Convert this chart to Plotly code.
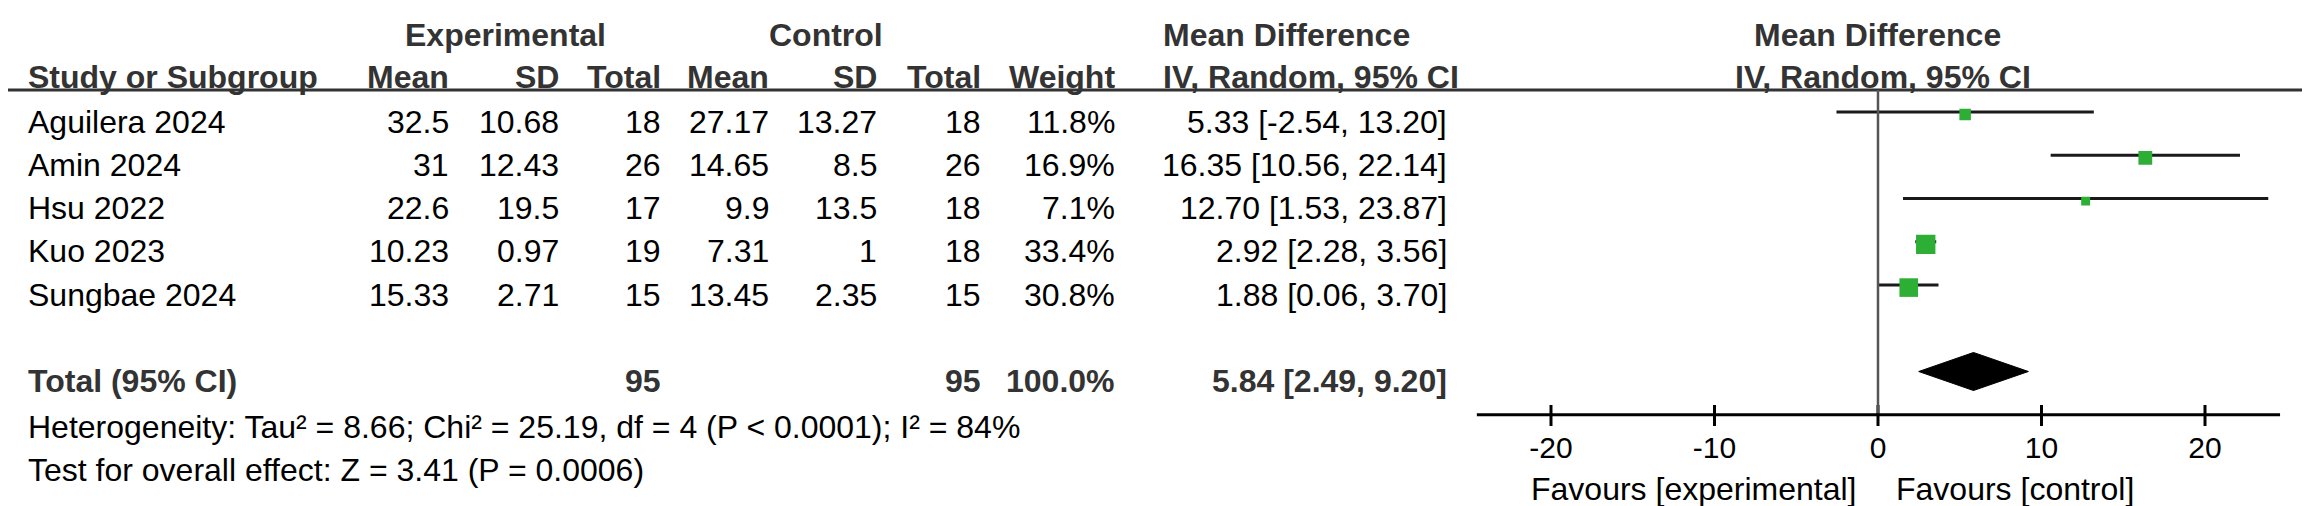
import plotly.graph_objects as go

# study level data
studies = ["Aguilera 2024", "Amin 2024", "Hsu 2022", "Kuo 2023", "Sungbae 2024"]
exp_mean = [32.5, 31, 22.6, 10.23, 15.33]
exp_sd = [10.68, 12.43, 19.5, 0.97, 2.71]
exp_n = [18, 26, 17, 19, 15]
ctrl_mean = [27.17, 14.65, 9.9, 7.31, 13.45]
ctrl_sd = [13.27, 8.5, 13.5, 1, 2.35]
ctrl_n = [18, 26, 18, 18, 15]
weight = [11.8, 16.9, 7.1, 33.4, 30.8]
md = [5.33, 16.35, 12.70, 2.92, 1.88]
ci_low = [-2.54, 10.56, 1.53, 2.28, 0.06]
ci_high = [13.20, 22.14, 23.87, 3.56, 3.70]

# pooled result
total_exp_n = 95
total_ctrl_n = 95
total_weight = 100.0
total_md = 5.84
total_low = 2.49
total_high = 9.20

heterogeneity = "Heterogeneity: Tau² = 8.66; Chi² = 25.19, df = 4 (P < 0.0001); I² = 84%"
overall_test = "Test for overall effect: Z = 3.41 (P = 0.0006)"

tick_vals = [-20, -10, 0, 10, 20]
favours_left = "Favours [experimental]"
favours_right = "Favours [control]"

# ---- layout constants (pixels / rows) ----
W, H = 2310, 506
ROW0_PX = 104.0      # pixel y of first study row
ROW_PX = 43.25       # pixel height of one row
TOTAL_ROW = 6
AXIS_ROW = 7.0
TXT = 0.22           # text sits a little below the CI line
FONT = "Liberation Sans, Arial, sans-serif"
HEAD_COL = "#333333"
GREEN = "#2DAF35"

rows = list(range(len(studies)))


def row_of(px):
    return (px - ROW0_PX) / ROW_PX


fig = go.Figure()

# confidence interval lines
ci_x, ci_y = [], []
for r, lo, hi in zip(rows, ci_low, ci_high):
    ci_x += [lo, hi, None]
    ci_y += [r, r, None]
fig.add_trace(go.Scatter(x=ci_x, y=ci_y, mode="lines",
                         line=dict(color="#1a1a1a", width=3),
                         hoverinfo="skip", showlegend=False))

# weight squares (area ~ weight)
fig.add_trace(go.Scatter(x=md, y=[r + 0.06 for r in rows], mode="markers",
                         marker=dict(symbol="square", color=GREEN, opacity=1,
                                     size=[3.35 * w ** 0.5 for w in weight],
                                     line=dict(width=0)),
                         text=studies, showlegend=False))

# pooled diamond
half = 0.44
fig.add_trace(go.Scatter(x=[total_low, total_md, total_high, total_md, total_low],
                         y=[TOTAL_ROW, TOTAL_ROW - half, TOTAL_ROW, TOTAL_ROW + half, TOTAL_ROW],
                         mode="lines", fill="toself", fillcolor="black",
                         line=dict(color="black", width=1),
                         hoverinfo="skip", showlegend=False))

# axis ticks (crossing the axis line)
tk_x, tk_y = [], []
for t in tick_vals:
    tk_x += [t, t, None]
    tk_y += [row_of(397), row_of(418), None]
fig.add_trace(go.Scatter(x=tk_x, y=tk_y, mode="lines",
                         line=dict(color="black", width=3),
                         hoverinfo="skip", showlegend=False))

fig.add_trace(go.Scatter(x=tick_vals, y=[row_of(442)] * len(tick_vals), mode="text",
                         text=[str(t) for t in tick_vals], textposition="middle center",
                         textfont=dict(family=FONT, size=30, color="black"),
                         hoverinfo="skip", showlegend=False))

shapes = [
    # header rule across the whole table
    dict(type="line", xref="paper", yref="y", x0=0, x1=2303 / W,
         y0=row_of(82), y1=row_of(82), line=dict(color="#333333", width=3)),
    # line of no effect
    dict(type="line", xref="x", yref="y", x0=0, x1=0,
         y0=row_of(82), y1=AXIS_ROW, line=dict(color="#555555", width=2.5)),
    # x axis line
    dict(type="line", xref="x", yref="y", x0=-24.55, x1=24.6,
         y0=AXIS_ROW, y1=AXIS_ROW, line=dict(color="black", width=3)),
]

annotations = []


def add_text(px, row, text, anchor="right", bold=False, xref="paper"):
    x = px / W if xref == "paper" else px
    annotations.append(dict(
        x=x, y=row, xref=xref, yref="y", text=text, showarrow=False,
        xanchor=anchor, yanchor="middle",
        font=dict(family=FONT, size=32, color=HEAD_COL if bold else "black",
                  weight="bold" if bold else "normal")))


# column right edges (px)
cols = [443, 553, 655, 763, 871, 975, 1109, 1441]

head1 = row_of(27)
head2 = row_of(69)
add_text(497, head1, "Experimental", "center", True)
add_text(818, head1, "Control", "center", True)
add_text(1153, head1, "Mean Difference", "left", True)
add_text(0, head1, "Mean Difference", "center", True, xref="x")

add_text(18, head2, "Study or Subgroup", "left", True)
for c, lab in zip(cols, ["Mean", "SD", "Total", "Mean", "SD", "Total", "Weight"]):
    add_text(c, head2, lab, "right", True)
add_text(1153, head2, "IV, Random, 95% CI", "left", True)
add_text(0.3, head2, "IV, Random, 95% CI", "center", True, xref="x")

for i, r in enumerate(rows):
    y = r + TXT
    add_text(18, y, studies[i], "left")
    vals = [f"{exp_mean[i]:g}", f"{exp_sd[i]:g}", str(exp_n[i]),
            f"{ctrl_mean[i]:g}", f"{ctrl_sd[i]:g}", str(ctrl_n[i]),
            f"{weight[i]:.1f}%",
            f"{md[i]:.2f} [{ci_low[i]:.2f}, {ci_high[i]:.2f}]"]
    for c, v in zip(cols, vals):
        add_text(c, y, v, "right")

ty = row_of(373)
add_text(18, ty, "Total (95% CI)", "left", True)
add_text(cols[2], ty, str(total_exp_n), "right", True)
add_text(cols[5], ty, str(total_ctrl_n), "right", True)
add_text(cols[6], ty, f"{total_weight:.1f}%", "right", True)
add_text(cols[7], ty, f"{total_md:.2f} [{total_low:.2f}, {total_high:.2f}]", "right", True)

add_text(18, row_of(419), heterogeneity, "left")
add_text(18, row_of(461.5), overall_test, "left")

add_text(1850, row_of(481), favours_left, "right")
add_text(1886, row_of(481), favours_right, "left")

x_left_px = 1870 - 24.55 * 16.35
x_right_px = 1870 + 24.6 * 16.35

fig.update_layout(
    width=W, height=H,
    margin=dict(l=0, r=0, t=0, b=0),
    paper_bgcolor="white", plot_bgcolor="white",
    xaxis=dict(domain=[x_left_px / W, x_right_px / W], range=[-24.55, 24.6],
               visible=False, fixedrange=True),
    yaxis=dict(domain=[0, 1], range=[row_of(H), row_of(0)],
               visible=False, fixedrange=True),
    shapes=shapes,
    annotations=annotations,
    showlegend=False,
)

fig.write_html("out.html")
